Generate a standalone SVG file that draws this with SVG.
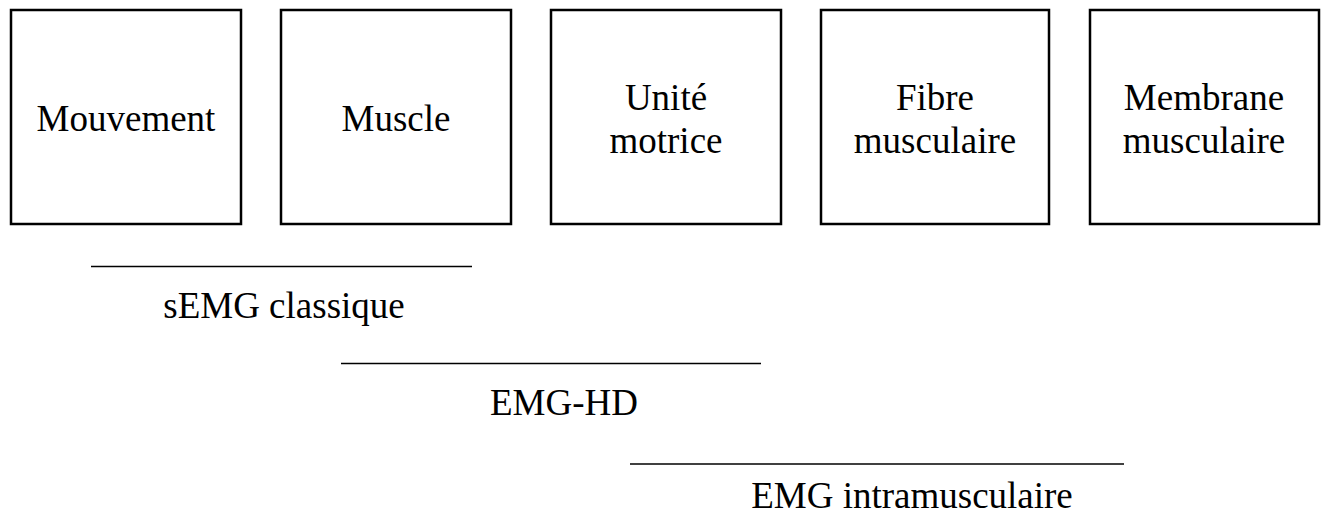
<svg xmlns="http://www.w3.org/2000/svg" width="1325" height="512" viewBox="0 0 1325 512">
<style>
.box{fill:#fff;stroke:#000;stroke-width:2.5}
.t{font-family:"Liberation Serif","Times New Roman",serif;font-size:37px;fill:#000;text-anchor:middle}
.ln{stroke:#000;stroke-width:1.5}
</style>
<rect width="1325" height="512" fill="#fff"/>
<g id="n1"><rect class="box" x="11" y="10" width="230" height="214"/><text class="t" x="126" y="131">Mouvement</text></g>
<g id="n2"><rect class="box" x="281" y="10" width="230" height="214"/><text class="t" x="396" y="131">Muscle</text></g>
<g id="n3"><rect class="box" x="551" y="10" width="230" height="214"/><text class="t" x="666" y="110">Unité</text><text class="t" x="666" y="153">motrice</text></g>
<g id="n4"><rect class="box" x="821" y="10" width="228" height="214"/><text class="t" x="935" y="110">Fibre</text><text class="t" x="935" y="153">musculaire</text></g>
<g id="n5"><rect class="box" x="1090" y="10" width="229" height="214"/><text class="t" x="1204" y="110">Membrane</text><text class="t" x="1204" y="153">musculaire</text></g>
<g id="connectors">
<line class="ln" x1="91" y1="266.5" x2="472" y2="266.5"/>
<line class="ln" x1="341" y1="363.5" x2="761" y2="363.5"/>
<line class="ln" x1="630" y1="464" x2="1124" y2="464"/>
</g>
<g id="labels">
<text class="t" x="284" y="318">sEMG classique</text>
<text class="t" x="564" y="415">EMG-HD</text>
<text class="t" x="912" y="508">EMG intramusculaire</text>
</g>
</svg>
